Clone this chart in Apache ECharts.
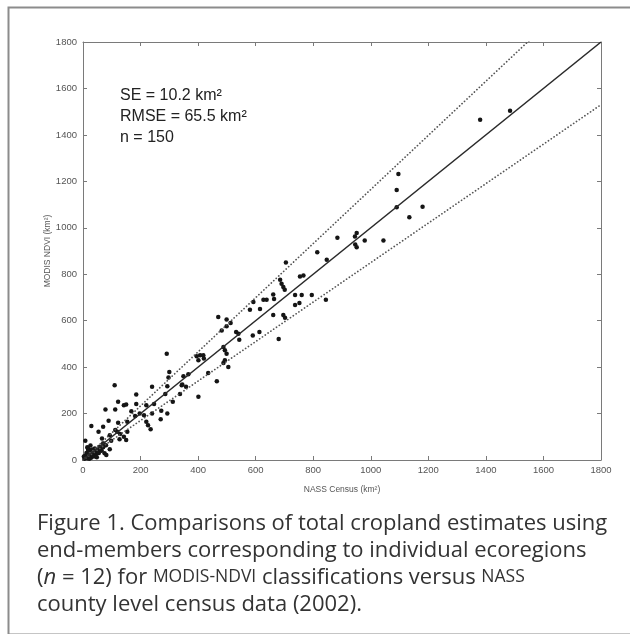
<!DOCTYPE html>
<html>
<head>
<meta charset="utf-8">
<script src="https://cdn.jsdelivr.net/npm/echarts@6/dist/echarts.min.js"></script>
<style>
html,body{margin:0;padding:0;background:#fff;}
#chart{width:630px;height:634px;}
</style>
</head>
<body>
<div id="chart"></div>
<script>
// NASS Census (x) vs MODIS NDVI (y), km^2
const censusX = [
  1380,1484,1180,1134,1096,1090,1090,884,951,945,946,951,979,1044,
  814,847,705,685,690,696,701,754,766,661,664,627,638,592,737,760,795,844,
  615,580,737,752,661,696,702,590,613,680,
  470,499,513,499,532,540,543,482,395,401,407,418,420,
  488,493,499,493,488,505,435,465,401,349,366,343,291,300,297,
  110,240,293,185,286,337,122,142,150,185,220,247,
  78,112,168,197,212,240,272,293,220,226,235,270,
  29,89,122,154,70,54,112,119,154,
  93,127,150,98,66,70,93,8,17,23,41,52,58,75,81,
  80,312,345,358,
  5,10,15,20,25,30,35,40,12,8,18,28,45,50,55,60,22,3,38,48,65,70,32,15,26,
  181,129,142
];
const ndviY = [
  1465,1504,1091,1045,1232,1163,1088,957,977,962,928,916,945,945,
  895,862,851,776,759,745,733,790,795,713,693,690,690,680,710,710,710,690,
  650,647,667,676,624,624,613,536,551,521,
  616,605,590,576,551,544,518,558,447,430,451,451,437,
  487,473,458,430,418,401,375,339,272,361,369,322,458,379,355,
  322,315,318,282,284,284,251,236,239,241,236,241,
  218,218,210,200,193,200,212,200,165,150,132,175,
  146,169,160,165,143,122,129,122,122,
  107,89,86,83,93,72,46,83,50,43,50,43,57,29,21,
  64,251,325,315,
  5,12,8,20,15,28,22,35,30,18,40,10,25,38,30,45,5,15,15,12,40,55,45,55,62,
  189,112,100
];
const axisTicks = [0,200,400,600,800,1000,1200,1400,1600,1800];
const lineExtentX = [0, 1800];
const slopeOneToOne = 1.0;
const slopeUpper = 1.165;
const slopeLower = 0.85;
const statLines = ['SE = 10.2 km\u00b2', 'RMSE = 65.5 km\u00b2', 'n = 150'];
const captionLines = [
  'Figure 1. Comparisons of total cropland estimates using',
  'end-members corresponding to individual ecoregions',
  '({i|n} = 12) for {sc|MODIS-NDVI} classifications versus {sc|NASS}',
  'county level census data (2002).'
];

const points = censusX.map((x, i) => [x, ndviY[i]]);
const mkLine = s => lineExtentX.map(x => [x, s * x]);

const chart = echarts.init(document.getElementById('chart'), null, {renderer: 'canvas'});
const axisCol = '#7a7a7a';
const FF = 'Liberation Sans, Arial, sans-serif';
const lblStyle = {color: '#555', fontSize: 9.5, fontFamily: FF, formatter: v => String(v)};
const baseAxis = {
  type: 'value', min: axisTicks[0], max: axisTicks[axisTicks.length - 1], interval: 200,
  axisLine: {show: true, onZero: false, lineStyle: {color: axisCol, width: 1}},
  axisTick: {show: true, inside: true, length: 4, lineStyle: {color: axisCol}},
  splitLine: {show: false}
};
chart.setOption({
  animation: false,
  backgroundColor: '#fff',
  grid: {left: 83, top: 42, width: 518, height: 418},
  xAxis: [
    Object.assign({}, baseAxis, {
      position: 'bottom',
      axisLabel: Object.assign({margin: 5}, lblStyle),
      name: 'NASS Census (km\u00b2)', nameLocation: 'middle', nameGap: 25, nameMoveOverlap: false,
      nameTextStyle: {color: '#555', fontSize: 8.5, fontFamily: FF}
    }),
    Object.assign({}, baseAxis, {position: 'top', axisLabel: {show: false}})
  ],
  yAxis: [
    Object.assign({}, baseAxis, {
      position: 'left',
      axisLabel: Object.assign({margin: 6}, lblStyle),
      name: 'MODIS NDVI (km\u00b2)', nameLocation: 'middle', nameGap: 31, nameMoveOverlap: false,
      nameTextStyle: {color: '#555', fontSize: 8.5, fontFamily: FF}
    }),
    Object.assign({}, baseAxis, {position: 'right', axisLabel: {show: false}})
  ],
  series: [
    {type: 'line', data: mkLine(slopeUpper), symbol: 'none', clip: true, silent: true,
     lineStyle: {color: '#555', width: 1.7, type: [0.1, 3.3], cap: 'round'}},
    {type: 'line', data: mkLine(slopeLower), symbol: 'none', clip: true, silent: true,
     lineStyle: {color: '#555', width: 1.7, type: [0.1, 3.3], cap: 'round'}},
    {type: 'line', data: mkLine(slopeOneToOne), symbol: 'none', clip: true, silent: true,
     lineStyle: {color: '#2a2a2a', width: 1.6}},
    {type: 'scatter', data: points, symbol: 'circle', symbolSize: 4.5,
     itemStyle: {color: '#151515', opacity: 1}}
  ],
  graphic: [
    {type: 'rect', left: 6, top: 5, silent: true,
     shape: {x: 0, y: 0, width: 640, height: 627},
     style: {fill: 'none', stroke: '#8c8c8c', lineWidth: 2}},
    {type: 'text', left: 120, top: 85,
     style: {text: statLines.join('\n'), fill: '#222', fontSize: 16, lineHeight: 21,
             fontFamily: FF}},
    {type: 'text', left: 37, top: 510,
     style: {text: captionLines.join('\n'), fill: '#333', fontSize: 22, lineHeight: 27,
             fontFamily: 'Open Sans, sans-serif',
             rich: {
               i: {fontStyle: 'italic', fontSize: 22, lineHeight: 27, fill: '#333', fontFamily: 'Open Sans, sans-serif'},
               sc: {fontSize: 17.5, lineHeight: 27, fill: '#333', fontFamily: 'Open Sans, sans-serif'}
             }}}
  ]
});
</script>
</body>
</html>
